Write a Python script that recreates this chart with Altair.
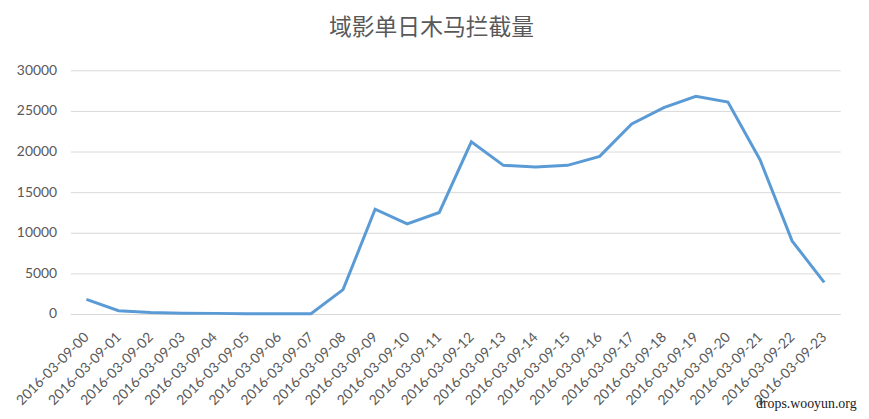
import altair as alt
import pandas as pd

hours = [f"2016-03-09-{h:02d}" for h in range(24)]
values = [1800, 400, 200, 100, 80, 30, 20, 30, 3000, 12900, 11100, 12500,
          21200, 18300, 18100, 18300, 19400, 23400, 25400, 26800, 26100, 19000, 9000, 3900]
y_ticks = [0, 5000, 10000, 15000, 20000, 25000, 30000]

df = pd.DataFrame({"hour": hours, "value": values})

label_font = "Lato"
gray = "#595959"

line = alt.Chart(df).mark_line(color="#5b9bd5", strokeWidth=3).encode(
    x=alt.X("hour:O", sort=hours,
            scale=alt.Scale(type="point", padding=0.5),
            axis=alt.Axis(title=None, labelAngle=-45, labelAlign="right",
                          labelBaseline="middle", labelPadding=21, ticks=False,
                          domainColor="#d9d9d9", domainWidth=1,
                          labelFont=label_font, labelFontSize=14, labelColor=gray,
                          grid=False)),
    y=alt.Y("value:Q", scale=alt.Scale(domain=[0, 30000], nice=False),
            axis=alt.Axis(title=None, values=y_ticks, format="d", ticks=False, domain=False,
                          gridColor="#d9d9d9", gridWidth=1,
                          labelFont=label_font, labelFontSize=14, labelColor=gray,
                          labelPadding=14)),
)

watermark = alt.Chart(pd.DataFrame({"t": ["drops.wooyun.org"]})).mark_text(
    font="Liberation Serif", fontSize=14, color="#222222", align="left", baseline="alphabetic"
).encode(text="t:N", x=alt.value(692), y=alt.value(341))

chart = alt.layer(line, watermark).properties(
    width=777, height=246,
    background="white",
    title=alt.TitleParams("域影单日木马拦截量", font="Noto Sans CJK SC", fontSize=23,
                          fontWeight="normal", color=gray, dx=-24, offset=24),
    autosize=alt.AutoSizeParams(type="none"),
    padding={"left": 63, "top": 61, "right": 21, "bottom": 96},
).configure_view(strokeWidth=0, stroke="transparent")

chart.save("out.html", embed_options={"renderer": "svg", "actions": False})
